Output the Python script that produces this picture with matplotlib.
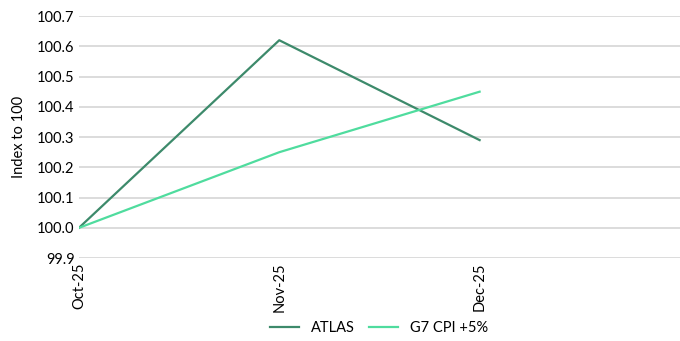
import matplotlib.pyplot as plt

months = ["Oct-25", "Nov-25", "Dec-25", ""]
atlas = [100.0, 100.62, 100.29]
g7_cpi = [100.0, 100.25, 100.45]
y_ticks = [99.9, 100.0, 100.1, 100.2, 100.3, 100.4, 100.5, 100.6, 100.7]

plt.rcParams['font.family'] = ['Lato', 'DejaVu Sans']

fig = plt.figure(figsize=(6.8, 3.41), dpi=100)
ax = fig.add_axes([0.116, 0.243, 0.884, 0.71])

x = range(len(atlas))
ax.plot(x, atlas, color='#3d8a6b', lw=1.6, label='ATLAS')
ax.plot(x, g7_cpi, color='#4fdc9e', lw=1.6, label='G7 CPI +5%')

ax.set_xlim(0, len(months) - 1)
ax.set_xticks(range(len(months)))
ax.set_xticklabels(months, rotation=90, fontsize=10.5)
ax.set_ylim(y_ticks[0], y_ticks[-1])
ax.set_yticks(y_ticks)
ax.set_yticklabels([f"{v:.1f}" for v in y_ticks], fontsize=10.5)
ax.set_ylabel("Index to 100", fontsize=10.5, labelpad=8)
ax.tick_params(length=0, pad=3)
ax.grid(axis='y', color='#d9d9d9', lw=1.3)
ax.set_axisbelow(True)
for s in ax.spines.values():
    s.set_visible(False)

fig.legend(loc='lower center', bbox_to_anchor=(0.557, -0.02), ncol=2, frameon=False,
           fontsize=10.5, handlelength=2.0, columnspacing=1.0)

fig.savefig('out.png', dpi=100)
